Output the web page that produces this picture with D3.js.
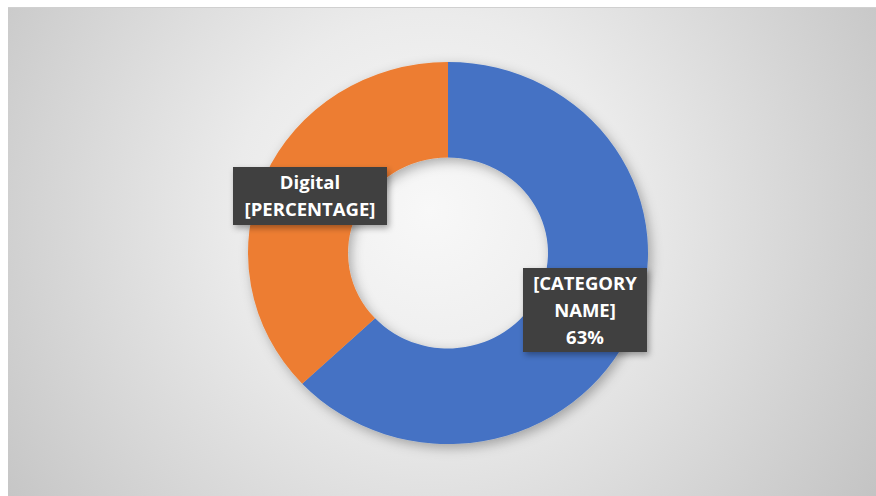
<!DOCTYPE html>
<html>
<head>
<meta charset="utf-8">
<script src="https://cdn.jsdelivr.net/npm/d3@7"></script>
<style>
html,body{margin:0;padding:0;background:#fff;}
svg{display:block;}
</style>
</head>
<body>
<svg id="chart" width="876" height="496"></svg>
<script>
const categories = ["[CATEGORY NAME]", "Digital"];
const values = [63, 37];
const colors = ["#4472C4", "#ED7D31"];
const labelLines = [["[CATEGORY", "NAME]", "63%"], ["Digital", "[PERCENTAGE]"]];

const svg = d3.select("#chart");
const defs = svg.append("defs");

const bg = defs.append("radialGradient").attr("id", "bg")
  .attr("gradientUnits", "userSpaceOnUse")
  .attr("cx", 430).attr("cy", 210).attr("r", 560);
bg.append("stop").attr("offset", "0").attr("stop-color", "#f8f8f8");
bg.append("stop").attr("offset", "0.35").attr("stop-color", "#ebebeb");
bg.append("stop").attr("offset", "1").attr("stop-color", "#c0c0c0");

const sh = defs.append("filter").attr("id", "shadow")
  .attr("x", "-20%").attr("y", "-20%").attr("width", "140%").attr("height", "140%");
sh.append("feDropShadow").attr("dx", 3).attr("dy", 4).attr("stdDeviation", 6)
  .attr("flood-color", "#000").attr("flood-opacity", 0.3);

const sh2 = defs.append("filter").attr("id", "shadow2")
  .attr("x", "-20%").attr("y", "-20%").attr("width", "140%").attr("height", "140%");
sh2.append("feDropShadow").attr("dx", 2).attr("dy", 3).attr("stdDeviation", 3)
  .attr("flood-color", "#000").attr("flood-opacity", 0.35);

// panel
svg.append("rect").attr("x", 8).attr("y", 7).attr("width", 868).attr("height", 489)
  .attr("fill", "url(#bg)");
svg.append("line").attr("x1", 8).attr("x2", 876).attr("y1", 7.5).attr("y2", 7.5)
  .attr("stroke", "#d0d0d0").attr("stroke-width", 1);

const cx = 448, cy = 253;
const rOuter = 200, rInner = 100;
const sy = 0.955;

const pie = d3.pie().sort(null).value(d => d)(values);
const arc = d3.arc().innerRadius(rInner).outerRadius(rOuter);

const g = svg.append("g")
  .attr("transform", `translate(${cx},${cy}) scale(1,${sy})`)
  .attr("filter", "url(#shadow)");
g.selectAll("path").data(pie).join("path")
  .attr("d", arc)
  .attr("fill", (d, i) => colors[i]);

// labels
const boxes = [
  {x: 523, y: 268, w: 124, h: 84},
  {x: 233, y: 167, w: 154, h: 58}
];
const lineH = 27;
const lg = svg.append("g");
boxes.forEach((b, i) => {
  lg.append("rect").attr("x", b.x).attr("y", b.y).attr("width", b.w).attr("height", b.h)
    .attr("fill", "#404040").attr("filter", "url(#shadow2)");
  const lines = labelLines[i];
  const midY = b.y + b.h / 2;
  const t = lg.append("text")
    .attr("text-anchor", "middle")
    .attr("font-family", "'Open Sans', sans-serif")
    .attr("font-weight", "bold")
    .attr("font-size", 18.5)
    .attr("fill", "#ffffff");
  lines.forEach((ln, k) => {
    t.append("tspan")
      .attr("x", b.x + b.w / 2)
      .attr("y", midY + (k - (lines.length - 1) / 2) * lineH)
      .attr("dy", "0.36em")
      .text(ln);
  });
});
</script>
</body>
</html>
